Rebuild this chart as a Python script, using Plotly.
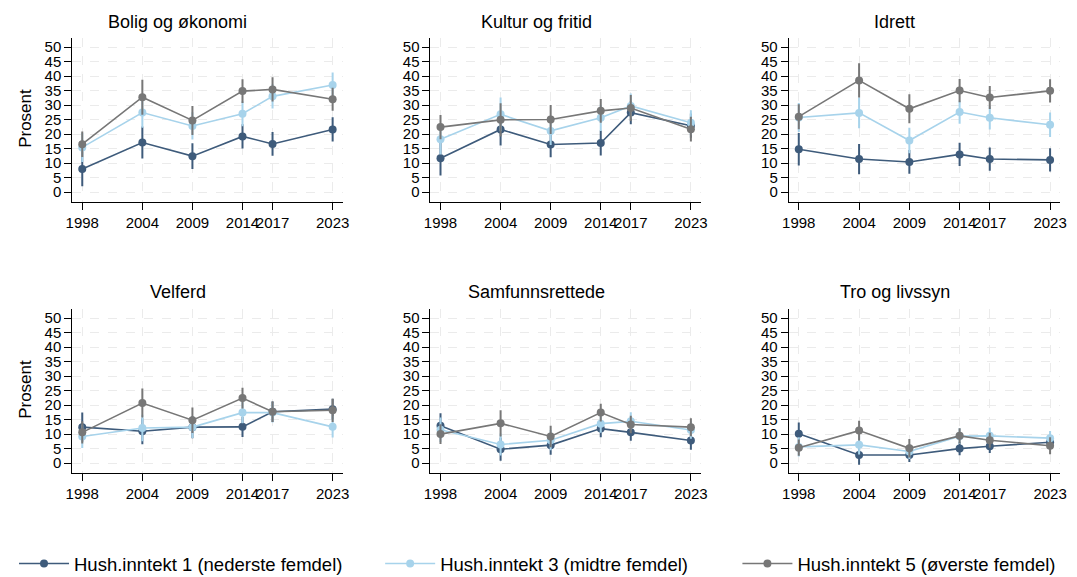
import plotly.graph_objects as go

years = [1998, 2004, 2009, 2014, 2017, 2023]
titles = ["Bolig og økonomi", "Kultur og fritid", "Idrett", "Velferd", "Samfunnsrettede", "Tro og livssyn"]
series_names = ["Hush.inntekt 1 (nederste femdel)", "Hush.inntekt 3 (midtre femdel)", "Hush.inntekt 5 (øverste femdel)"]
colors = ["#3e5b7b", "#a7d3eb", "#777777"]

# Bolig og økonomi
bolig_1 = [8.0, 17.1, 12.4, 19.2, 16.6, 21.6]
bolig_1_ci = [6.0, 5.5, 4.4, 4.2, 4.1, 4.2]
bolig_3 = [15.4, 27.4, 22.8, 27.0, 33.0, 36.9]
bolig_3_ci = [5.0, 5.2, 4.7, 4.3, 4.2, 4.3]
bolig_5 = [16.5, 32.7, 24.7, 34.8, 35.4, 32.0]
bolig_5_ci = [4.4, 6.0, 5.0, 4.1, 4.2, 4.0]
# Kultur og fritid
kultur_1 = [11.7, 21.6, 16.4, 16.9, 27.4, 22.9]
kultur_1_ci = [6.0, 5.5, 4.4, 4.3, 4.0, 4.2]
kultur_3 = [18.2, 26.8, 21.1, 25.6, 29.7, 23.9]
kultur_3_ci = [5.2, 5.8, 4.9, 4.5, 4.3, 4.3]
kultur_5 = [22.4, 24.9, 25.0, 28.0, 29.0, 21.7]
kultur_5_ci = [4.2, 5.7, 5.0, 4.1, 4.5, 4.3]
# Idrett
idrett_1 = [14.8, 11.4, 10.4, 13.0, 11.4, 11.1]
idrett_1_ci = [5.6, 5.2, 4.1, 4.0, 4.0, 4.0]
idrett_3 = [25.7, 27.3, 17.8, 27.6, 25.6, 23.2]
idrett_3_ci = [5.0, 5.3, 4.4, 4.0, 4.0, 4.2]
idrett_5 = [26.0, 38.5, 28.7, 35.0, 32.6, 34.9]
idrett_5_ci = [4.3, 5.9, 5.0, 4.0, 4.0, 4.0]
# Velferd
velferd_1 = [12.4, 11.0, 12.4, 12.5, 17.7, 18.6]
velferd_1_ci = [5.0, 4.5, 3.8, 3.5, 3.5, 3.6]
velferd_3 = [9.2, 12.1, 12.4, 17.4, 17.4, 12.5]
velferd_3_ci = [4.0, 4.6, 3.7, 3.7, 3.4, 3.7]
velferd_5 = [10.6, 20.7, 14.8, 22.4, 17.7, 18.2]
velferd_5_ci = [3.8, 5.0, 4.4, 3.6, 3.5, 4.0]
# Samfunnsrettede
samfunn_1 = [12.9, 4.8, 6.2, 11.9, 10.6, 7.8]
samfunn_1_ci = [4.3, 4.0, 3.3, 3.0, 2.9, 3.2]
samfunn_3 = [11.5, 6.4, 7.9, 13.6, 14.4, 11.4]
samfunn_3_ci = [4.2, 3.8, 3.5, 3.1, 3.1, 3.0]
samfunn_5 = [10.0, 13.7, 9.2, 17.4, 13.3, 12.4]
samfunn_5_ci = [3.4, 4.5, 3.7, 3.1, 3.0, 3.1]
# Tro og livssyn
tro_1 = [10.1, 2.8, 2.8, 5.0, 5.8, 7.2]
tro_1_ci = [3.9, 3.4, 2.4, 2.3, 2.3, 2.5]
tro_3 = [5.6, 6.3, 4.0, 9.3, 9.4, 8.6]
tro_3_ci = [3.3, 3.3, 2.6, 2.7, 2.8, 2.5]
tro_5 = [5.3, 11.2, 5.1, 9.4, 7.9, 6.0]
tro_5_ci = [2.8, 3.4, 3.2, 2.6, 2.6, 2.9]

y_ticks = list(range(0, 51, 5))

panels = [
    [(bolig_1, bolig_1_ci), (bolig_3, bolig_3_ci), (bolig_5, bolig_5_ci)],
    [(kultur_1, kultur_1_ci), (kultur_3, kultur_3_ci), (kultur_5, kultur_5_ci)],
    [(idrett_1, idrett_1_ci), (idrett_3, idrett_3_ci), (idrett_5, idrett_5_ci)],
    [(velferd_1, velferd_1_ci), (velferd_3, velferd_3_ci), (velferd_5, velferd_5_ci)],
    [(samfunn_1, samfunn_1_ci), (samfunn_3, samfunn_3_ci), (samfunn_5, samfunn_5_ci)],
    [(tro_1, tro_1_ci), (tro_3, tro_3_ci), (tro_5, tro_5_ci)],
]

# The page has the browser's 8px body margin; the figure runs slightly past the window's bottom.
W, H = 1069, 575
OFF = 8  # page px = figure px + OFF


def px_x(v):
    return (v - OFF) / W


def px_y(v):
    return 1 - (v - OFF) / H


FONT = "Liberation Sans, Arial, Helvetica, sans-serif"
xdom_px = [(66, 340), (429, 703), (792, 1067)]
ydom_px = [(38, 202), (309, 473)]
title_y_px = [22, 292]
title_dx_px = -30
ylabel_y_px = [118, 389]
legend_x_px = [7, 378, 740]
legend_names = ["legend", "legend2", "legend3"]

fig = go.Figure()
layout = {}
annotations = []
for p in range(6):
    r, c = divmod(p, 3)
    idx = "" if p == 0 else str(p + 1)
    xa, ya = "x" + idx, "y" + idx
    x0, x1 = xdom_px[c]
    y0, y1 = ydom_px[r]
    layout["xaxis" + idx] = dict(
        domain=[px_x(x0), px_x(x1)], anchor=ya, range=[1997, 2024],
        tickmode="array", tickvals=years, ticktext=[str(y) for y in years],
        tickangle=0,
        showline=True, linecolor="#000000", linewidth=1,
        ticks="outside", ticklen=7, tickcolor="#000000",
        showgrid=True, gridcolor="#ebebeb", griddash="dash", gridwidth=1,
        zeroline=False, tickfont=dict(size=15, color="#000000", family=FONT),
    )
    layout["yaxis" + idx] = dict(
        domain=[px_y(y1), px_y(y0)], anchor=xa, range=[-3.4, 53.1],
        tickmode="array", tickvals=y_ticks,
        showline=True, linecolor="#000000", linewidth=1,
        ticks="outside", ticklen=7, tickcolor="#000000",
        showgrid=True, gridcolor="#ebebeb", griddash="dash", gridwidth=1,
        zeroline=False, tickfont=dict(size=15, color="#000000", family=FONT),
    )
    annotations.append(dict(
        text=titles[p], x=px_x((x0 + x1) / 2 + title_dx_px), y=px_y(title_y_px[r]),
        xref="paper", yref="paper", showarrow=False, xanchor="center", yanchor="middle",
        font=dict(size=18, color="#000000", family=FONT),
    ))
    if c == 0:
        annotations.append(dict(
            text="Prosent", x=px_x(18), y=px_y(ylabel_y_px[r]), textangle=-90,
            xref="paper", yref="paper", showarrow=False, xanchor="center", yanchor="middle",
            font=dict(size=17, color="#000000", family=FONT),
        ))
    for s, (vals, ci) in enumerate(panels[p]):
        fig.add_trace(go.Scatter(
            x=years, y=vals, xaxis=xa, yaxis=ya,
            mode="lines+markers", name=series_names[s],
            legend=legend_names[s], showlegend=(p == 0),
            line=dict(color=colors[s], width=1.6),
            marker=dict(color=colors[s], size=8),
            error_y=dict(type="data", array=ci, visible=True, width=0,
                         thickness=2, color=colors[s]),
        ))

for i, ln in enumerate(legend_names):
    layout[ln] = dict(
        orientation="h", x=px_x(legend_x_px[i]), xanchor="left", y=0, yanchor="bottom",
        font=dict(size=18.5, color="#000000", family=FONT),
        itemwidth=50, bgcolor="rgba(0,0,0,0)",
    )

fig.update_layout(
    **layout,
    annotations=annotations,
    width=W, height=H,
    margin=dict(l=0, r=0, t=0, b=0),
    paper_bgcolor="#ffffff", plot_bgcolor="#ffffff",
    font=dict(family=FONT, color="#000000"),
)

fig.write_html("out.html")
